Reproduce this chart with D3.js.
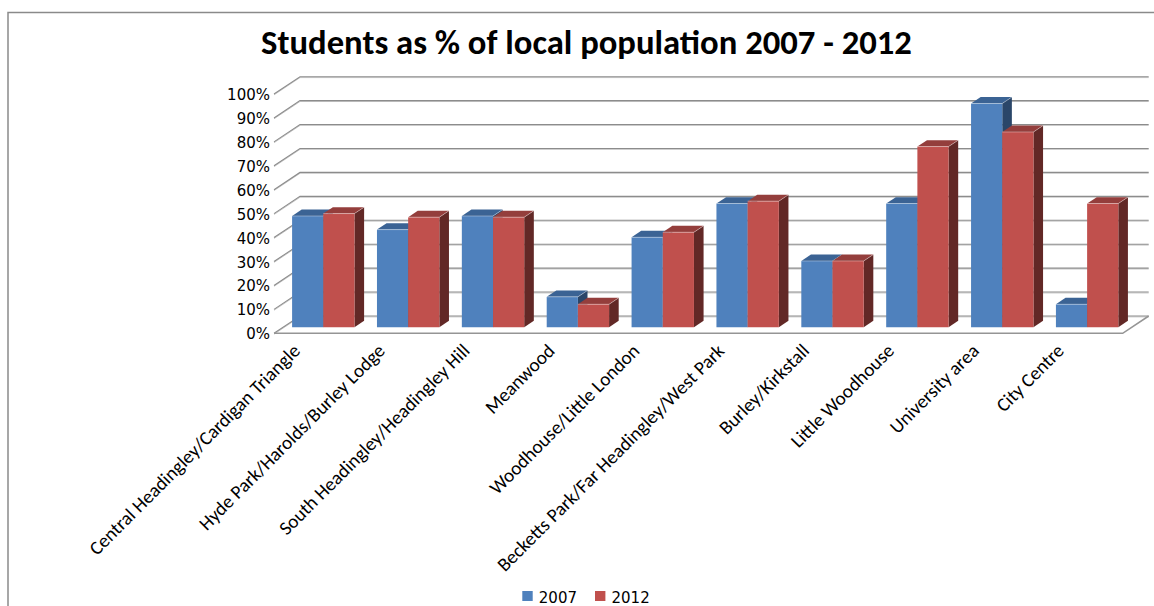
<!DOCTYPE html>
<html>
<head>
<meta charset="utf-8">
<script src="https://cdn.jsdelivr.net/npm/d3@7"></script>
<style>
  body { margin: 0; background: #fff; }
  svg { display: block; }
</style>
</head>
<body>
<svg id="chart" width="1154" height="606"></svg>
<script>
// ---- data ----
const categories = [
  "Central Headingley/Cardigan Triangle",
  "Hyde Park/Harolds/Burley Lodge",
  "South Headingley/Headingley Hill",
  "Meanwood",
  "Woodhouse/Little London",
  "Becketts Park/Far Headingley/West Park",
  "Burley/Kirkstall",
  "Little Woodhouse",
  "University area",
  "City Centre"
];
const seriesNames = ["2007", "2012"];
const values2007 = [46.5, 40.8, 46.5, 12.7, 37.6, 51.7, 27.7, 51.7, 93.5, 9.6];
const values2012 = [47.5, 46.0, 46.0, 9.6, 39.7, 52.7, 27.7, 75.5, 81.6, 51.7];
const yTicks = [0, 10, 20, 30, 40, 50, 60, 70, 80, 90, 100];
const titleText = "Students as % of local population 2007 - 2012";

// ---- styling ----
const colors = {
  "2007": { front: "#4F81BD", top: "#3B6394", side: "#2A4669" },
  "2012": { front: "#C0504D", top: "#943E3C", side: "#622826" }
};
const calibriLike = "Carlito, Calibri, Lato, 'Open Sans', sans-serif";
const verdanaLike = "Verdana, 'DejaVu Sans', sans-serif";

const svg = d3.select("#chart");

// outer chart-area border
svg.append("rect")
  .attr("x", 8).attr("y", 12.5)
  .attr("width", 1200).attr("height", 700)
  .attr("fill", "none").attr("stroke", "#8a8a8a").attr("stroke-width", 1.5);

// ---- 3D box geometry (oblique projection) ----
const floor = { x0: 274, x1: 1122.7, y0: 333.3 };
const depth = { dx: 26, dy: -17.3 };
const barZ = [0.35, 0.72];

const y = d3.scaleLinear().domain([0, 100]).range([floor.y0, floor.y0 - 239.3]);
const x = d3.scaleBand().domain(categories).range([floor.x0, floor.x1])
  .paddingInner(0.265).paddingOuter(0.1325).align(0.4);
const xs = d3.scaleBand().domain(seriesNames).range([0, x.bandwidth()]);

// project a point on the front plane (px, value) pushed back by depth fraction z
const P = (px, v, z) => [px + depth.dx * z, y(v) + depth.dy * z];
const poly = pts => "M" + pts.map(p => p.join(",")).join("L") + "Z";
const line = d3.line();

// ---- gridlines on back and side walls ----
const grid = svg.append("g");
yTicks.forEach(t => {
  const pts = [P(floor.x0, t, 0), P(floor.x0, t, 1), P(floor.x1, t, 1)];
  grid.append("path").attr("d", line(pts.map(p => [p[0], p[1] + 0.9])))
    .attr("fill", "none").attr("stroke", "#c9c9c9").attr("stroke-width", 1);
  grid.append("path").attr("d", line(pts))
    .attr("fill", "none").attr("stroke", "#8c8c8c").attr("stroke-width", 1.1);
});

// floor outline (front and right edges)
svg.append("path")
  .attr("d", line([P(floor.x0, 0, 0), P(floor.x1, 0, 0), P(floor.x1, 0, 1)]))
  .attr("fill", "none").attr("stroke", "#959595").attr("stroke-width", 1.6);

// ---- bars ----
const series = seriesNames.map((name, si) => ({
  name, values: si === 0 ? values2007 : values2012
}));
const bars = svg.append("g");
categories.forEach((c, i) => {
  series.forEach(s => {
    const v = s.values[i];
    const x0 = x(c) + xs(s.name);
    const x1 = x0 + xs.bandwidth();
    const [za, zb] = barZ;
    const col = colors[s.name];
    const g = bars.append("g");
    g.append("path")
      .attr("d", poly([P(x1, v, za), P(x1, v, zb), P(x1, 0, zb), P(x1, 0, za)]))
      .attr("fill", col.side);
    g.append("path")
      .attr("d", poly([P(x0, v, za), P(x1, v, za), P(x1, v, zb), P(x0, v, zb)]))
      .attr("fill", col.top);
    g.append("path")
      .attr("d", poly([P(x0, v, za), P(x1, v, za), P(x1, 0, za), P(x0, 0, za)]))
      .attr("fill", col.front);
    // soft highlight along the top edges
    g.append("path")
      .attr("d", line([P(x0, v, za), P(x1, v, za), P(x1, v, zb)]))
      .attr("fill", "none").attr("stroke", "rgba(255,255,255,0.35)").attr("stroke-width", 1);
  });
});

// ---- y axis labels ----
svg.append("g").selectAll("text").data(yTicks).join("text")
  .attr("x", floor.x0 - 4)
  .attr("y", d => y(d) + 1.5)
  .attr("text-anchor", "end")
  .attr("dominant-baseline", "middle")
  .style("font-family", verdanaLike)
  .style("font-size", "15px")
  .attr("fill", "#000")
  .text(d => d + "%");

// ---- category labels (rotated) ----
const catG = svg.append("g");
const catLabels = catG.selectAll("text").data(categories).join("text")
  .attr("text-anchor", "end")
  .attr("transform", c => `translate(${x(c) + x.bandwidth() / 2 - 13},352) rotate(-45)`)
  .style("font-family", calibriLike)
  .style("font-size", "14px")
  .attr("fill", "#000")
  .text(c => c);
// size the labels so the longest one spans the same length as in the layout
{
  const longest = catLabels.filter((d, i) => i === 0).node();
  const w = longest.getComputedTextLength();
  const fs = 14 * 289 / w;
  catLabels.style("font-size", fs.toFixed(2) + "px");
}

// ---- title ----
const title = svg.append("text")
  .attr("x", 586.5).attr("y", 54)
  .attr("text-anchor", "middle")
  .style("font-family", calibriLike)
  .style("font-weight", "bold")
  .style("font-size", "26px")
  .attr("fill", "#000")
  .text(titleText);
{
  const w = title.node().getComputedTextLength();
  title.style("font-size", (26 * 651 / w).toFixed(2) + "px");
}

// ---- legend ----
const legend = svg.append("g");
const legendX = [522.3, 595];
seriesNames.forEach((name, i) => {
  legend.append("rect")
    .attr("x", legendX[i]).attr("y", 591)
    .attr("width", 10.4).attr("height", 10)
    .attr("fill", colors[name].front);
  legend.append("text")
    .attr("x", legendX[i] + 16.5).attr("y", 602.5)
    .style("font-family", verdanaLike)
    .style("font-size", "15px")
    .attr("fill", "#000")
    .text(name);
});
</script>
</body>
</html>
